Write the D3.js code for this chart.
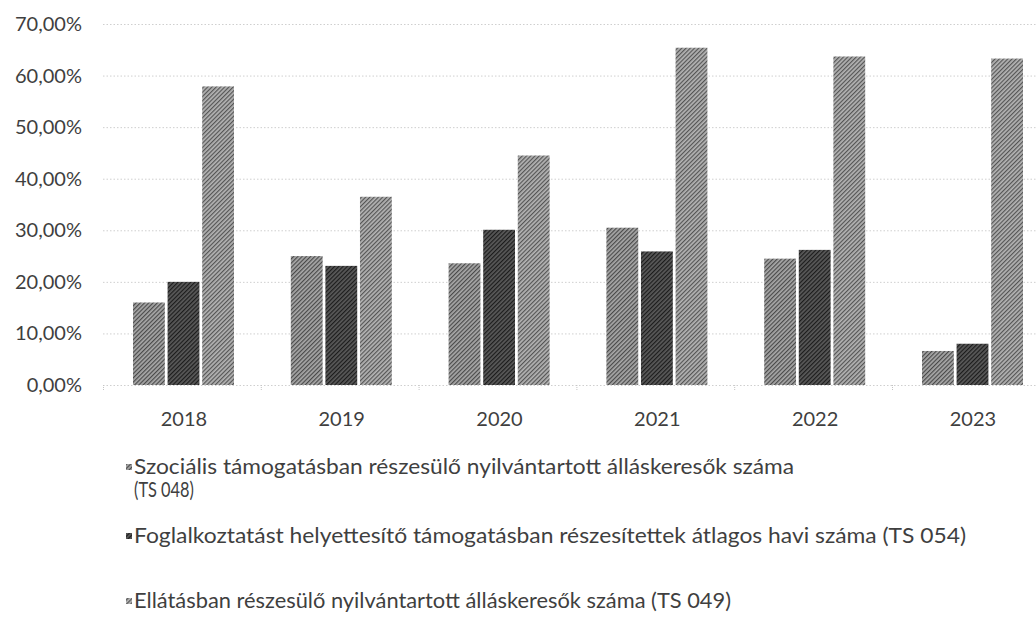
<!DOCTYPE html>
<html lang="hu">
<head>
<meta charset="utf-8">
<title>Chart</title>
<script src="https://d3js.org/d3.v7.min.js"></script>
<style>
body { margin: 0; background: #fff; }
svg text { font-family: Lato, "Open Sans", sans-serif; fill: #3f3f3f; }
.grid line { stroke: #cfcfcf; stroke-width: 1; stroke-dasharray: 1.5,2; }
</style>
</head>
<body>
<div id="chart"></div>
<script>
// data (percent)
var years = ["2018", "2019", "2020", "2021", "2022", "2023"];
var szocialis = [16.0, 25.0, 23.6, 30.5, 24.5, 6.6];
var foglalkoztatast = [20.0, 23.1, 30.1, 25.9, 26.2, 8.0];
var ellatasban = [57.9, 36.5, 44.5, 65.4, 63.7, 63.3];
var yTicks = [0, 10, 20, 30, 40, 50, 60, 70];
var legendLines = [
  ["Szociális támogatásban részesülő nyilvántartott álláskeresők száma", "(TS 048)"],
  ["Foglalkoztatást helyettesítő támogatásban részesítettek átlagos havi száma (TS 054)"],
  ["Ellátásban részesülő nyilvántartott álláskeresők száma (TS 049)"]
];

var w = 1036, h = 631;
var svg = d3.select("#chart").append("svg").attr("width", w).attr("height", h);

// textured fills
var defs = svg.append("defs");
function hatch(id, base, line) {
  var p = defs.append("pattern").attr("id", id)
    .attr("patternUnits", "userSpaceOnUse").attr("width", 3).attr("height", 3)
    .attr("patternTransform", "rotate(45)");
  p.append("rect").attr("width", 3).attr("height", 3).attr("fill", base);
  p.append("rect").attr("width", 1.2).attr("height", 3).attr("fill", line);
}
hatch("p0", "#a8a8a8", "#4a4a4a");
hatch("p1", "#5a5a5a", "#1c1c1c");
hatch("p2", "#b4b4b4", "#555");
var fills = ["url(#p0)", "url(#p1)", "url(#p2)"];

var series = [szocialis, foglalkoztatast, ellatasban];
var rows = years.map(function (y, i) {
  return { year: y, vals: series.map(function (s) { return s[i]; }) };
});

var x0 = d3.scaleBand().domain(years).range([103, 103 + 6 * 157.8]);
var x1 = d3.scaleBand().domain([0, 1, 2]).range([30, 131]).paddingInner(0.08);
var y = d3.scaleLinear().domain([0, 70]).range([385, 24]);

// gridlines
svg.append("g").attr("class", "grid")
  .selectAll("line").data(yTicks).enter().append("line")
  .attr("x1", 103).attr("x2", w)
  .attr("y1", function (d) { return y(d) + 0.5; })
  .attr("y2", function (d) { return y(d) + 0.5; });

// category tick marks below baseline
svg.append("g").selectAll("line").data(years.concat(["end"])).enter().append("line")
  .attr("x1", function (d, i) { return 103 + i * x0.step() + 0.5; })
  .attr("x2", function (d, i) { return 103 + i * x0.step() + 0.5; })
  .attr("y1", y(0)).attr("y2", y(0) + 6)
  .attr("stroke", "#c4c4c4").attr("stroke-dasharray", "1,1");

// bars
var groups = svg.append("g").selectAll("g").data(rows).enter().append("g")
  .attr("transform", function (d) { return "translate(" + x0(d.year) + ",0)"; });
groups.selectAll("rect").data(function (d) { return d.vals; }).enter().append("rect")
  .attr("x", function (d, i) { return x1(i); })
  .attr("width", x1.bandwidth())
  .attr("y", function (d) { return y(d); })
  .attr("height", function (d) { return y(0) - y(d); })
  .attr("fill", function (d, i) { return fills[i]; });

// y labels
svg.append("g").selectAll("text").data(yTicks).enter().append("text")
  .attr("x", 82).attr("y", function (d) { return y(d) + 7; })
  .attr("text-anchor", "end").attr("font-size", 20)
  .text(function (d) { return d3.format(".2f")(d).replace(".", ",") + "%"; });

// year labels
svg.append("g").selectAll("text").data(years).enter().append("text")
  .attr("x", function (d) { return x0(d) + x0.bandwidth() / 2 + 2; })
  .attr("y", 426).attr("text-anchor", "middle").attr("font-size", 20)
  .text(function (d) { return d; });

// legend
var legendY = [474, 543, 608];
var lineWidths = [[660, 60], [832], [597]];
var leg = svg.append("g").selectAll("g").data(legendLines).enter().append("g");
leg.append("rect")
  .attr("x", 126).attr("y", function (d, i) { return legendY[i] - 10; })
  .attr("width", 6).attr("height", 6)
  .attr("fill", function (d, i) { return fills[i]; });
leg.each(function (d, i) {
  var g = d3.select(this);
  d.forEach(function (t, j) {
    g.append("text").attr("x", 134).attr("y", legendY[i] + j * 23)
      .attr("font-size", 21)
      .attr("textLength", lineWidths[i][j]).attr("lengthAdjust", "spacingAndGlyphs")
      .text(t);
  });
});
</script>
</body>
</html>
